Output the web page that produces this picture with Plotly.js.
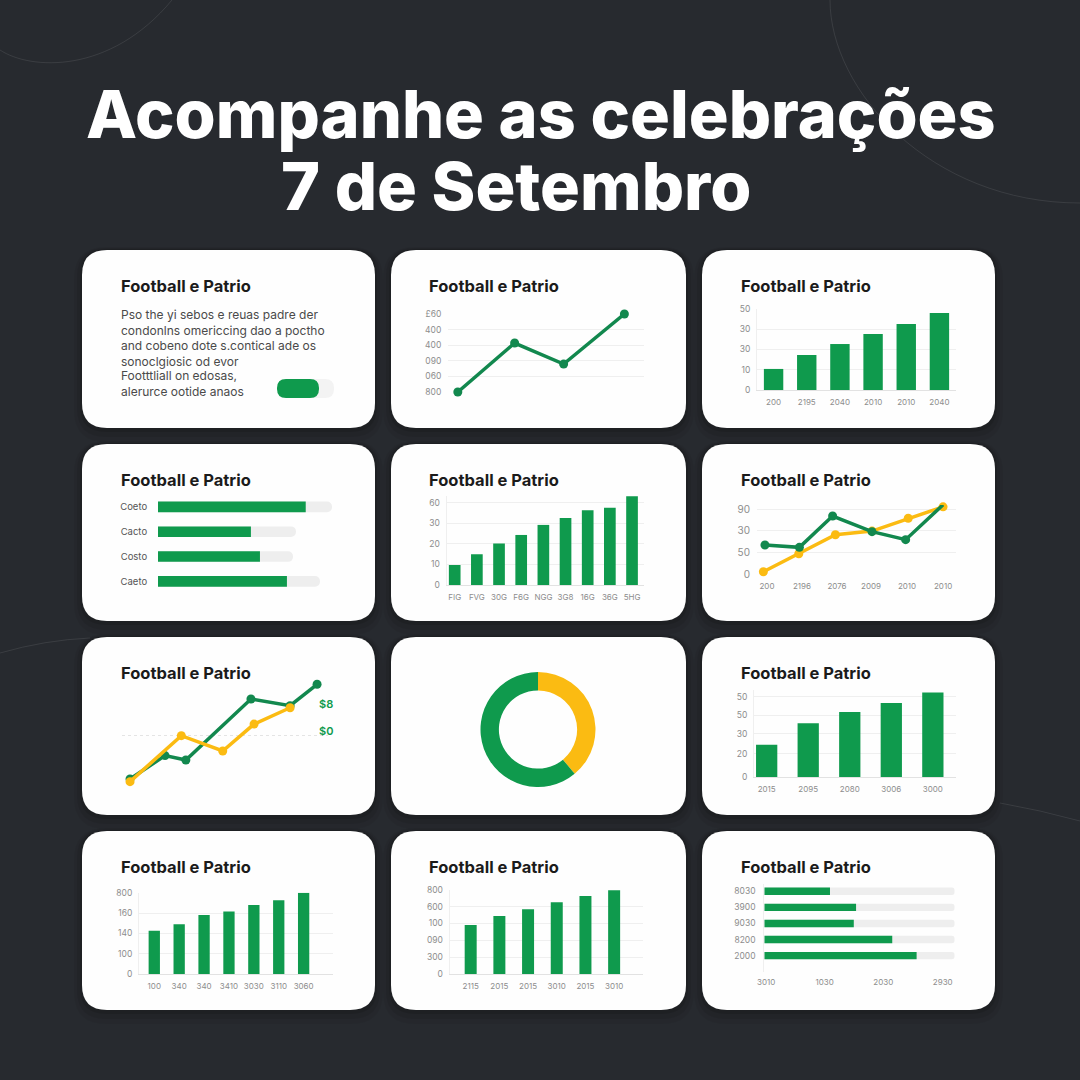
<!DOCTYPE html>
<html>
<head>
<meta charset="utf-8">
<script src="https://cdn.plot.ly/plotly-3.0.1.min.js"></script>
<style>
html, body { margin: 0; padding: 0; background: #272a2f; }
#chart { width: 1080px; height: 1080px; }
</style>
</head>
<body>
<div id="chart"></div>
<script>
// Data
var pageTitle1 = 'Acompanhe as celebrações';
var pageTitle2 = '7 de Setembro';
var cardTitle = 'Football e Patrio';
var bodyLines = ['Pso the yi sebos e reuas padre der', 'condonlns omericcing dao a poctho', 'and cobeno dote s.contical ade os',
  'sonoclgiosic od evor', 'Footttliall on edosas,', 'alerurce ootide anaos'];

var line1X = [5, 34, 59, 90];
var line1Y = [100, 414, 279, 600];
var line1Ticks = [100, 200, 300, 400, 500, 600];
var line1TickText = ['800', '060', '090', '400', '400', '£60'];

var bars1Labels = ['200', '2195', '2040', '2010', '2010', '2040'];
var bars1Values = [10.4, 17.3, 22.7, 27.7, 32.6, 38];
var bars1Ticks = [0, 10, 20, 30, 40];
var bars1TickText = ['0', '10', '30', '30', '50'];

var progress1Labels = ['Coeto', 'Cacto', 'Costo', 'Caeto'];
var progress1Values = [84.9, 53.4, 58.6, 74.1];
var progress1Tracks = [100, 79.3, 77.6, 93.1];

var bars2Labels = ['FIG', 'FVG', '30G', 'F6G', 'NGG', '3G8', '16G', '36G', '5HG'];
var bars2Values = [9.8, 15, 20.2, 24.4, 29.3, 32.7, 36.4, 37.7, 43.3];
var bars2Ticks = [0, 10, 20, 30, 40];
var bars2TickText = ['0', '10', '20', '30', '60'];

var trendLabels = ['200', '2196', '2076', '2009', '2010', '2010'];
var trendTicks = [5, 22.6, 40.2, 57.3, 75.4, 93.5];
var trendGreenX = [4, 21.3, 38, 57.8, 74.7, 93.5];
var trendGreenY = [40.7, 37.5, 80.4, 59, 48, 95.8];
var trendYellowX = [3.2, 21, 39.4, 57.8, 76, 93.5];
var trendYellowY = [4, 28.7, 54.7, 59.8, 77.3, 93];
var trendYTicks = [0, 30, 60, 90];
var trendYText = ['0', '50', '30', '90'];

var crossGreenX = [3.9, 20.9, 31, 62.6, 81.6, 94.7];
var crossGreenY = [5.7, 28, 23.8, 81.9, 75.5, 95.9];
var crossYellowX = [3.9, 28.8, 48.9, 64.1, 81.6];
var crossYellowY = [3.2, 47, 32.4, 58, 73.6];
var crossGuide = [46.7];
var crossNotes = ['$8', '$0'];
var crossNotesY = [77.4, 51.4];

var donutValues = [39, 61];

var bars3Labels = ['2015', '2095', '2080', '3006', '3000'];
var bars3Values = [20.2, 33.5, 40.4, 46, 52.6];
var bars3Ticks = [0, 14.6, 26.9, 38.4, 50];
var bars3TickText = ['0', '20', '30', '50', '50'];

var bars4Labels = ['100', '340', '340', '3410', '3030', '3110', '3060'];
var bars4Values = [213, 244.5, 290, 308, 339.5, 362.6, 400];
var bars4Ticks = [0, 100, 200, 300, 400];
var bars4TickText = ['0', '100', '140', '160', '800'];

var bars5Labels = ['2115', '2015', '2015', '3010', '2015', '3010'];
var bars5Values = [290.6, 344, 383.7, 425, 462.6, 496.4];
var bars5Ticks = [0, 100, 200, 300, 400, 500];
var bars5TickText = ['0', '300', '090', '100', '600', '800'];

var progress2Labels = ['2000', '8200', '9030', '3900', '8030'];
var progress2Values = [80, 67.2, 47, 48.2, 34.5];
var progress2Ticks = [1, 31.7, 62.5, 93.7];
var progress2TickText = ['3010', '1030', '2030', '2930'];
var progress2Track = [100, 100, 100, 100, 100];

var GREEN = '#0f9a4d';
var LINEGREEN = '#12884e';
var YELLOW = '#fbbb12';
var TICK = '#8d8d8d';
var GRID = '#efefef';
var FONT = 'Inter, "Liberation Sans", sans-serif';

var W = 1080;
function px(x) { return x / W; }
function py(y) { return 1 - y / W; }

var traces = [], shapes = [], annotations = [], layout = {};
var axisCount = 0;

// adds one x/y axis pair placed on a pixel box of the page
function addAxes(box, xopts, yopts) {
  axisCount++;
  var s = axisCount === 1 ? '' : String(axisCount);
  layout['xaxis' + s] = Object.assign({
    domain: [px(box[0]), px(box[2])], anchor: 'y' + s, showgrid: false, zeroline: false,
    showline: true, linecolor: '#e2e2e2', linewidth: 1, ticks: 'outside', ticklen: 4, tickcolor: 'rgba(0,0,0,0)',
    tickfont: { family: FONT, size: 8, color: TICK }, tickangle: 0, fixedrange: true
  }, xopts);
  layout['yaxis' + s] = Object.assign({
    domain: [py(box[3]), py(box[1])], anchor: 'x' + s, showgrid: true, gridcolor: GRID, gridwidth: 1, zeroline: false,
    showline: true, linecolor: GRID, linewidth: 1, ticks: 'outside', ticklen: 4, tickcolor: 'rgba(0,0,0,0)',
    tickfont: { family: FONT, size: 8.5, color: TICK }, fixedrange: true
  }, yopts);
  return { x: 'x' + s, y: 'y' + s };
}

function barPanel(box, labels, values, ticks, tickText, xRange, yRange, gap) {
  var ax = addAxes(box,
    { range: xRange, tickvals: labels.map(function(l, i) { return i; }), ticktext: labels },
    { range: yRange, tickvals: ticks, ticktext: tickText });
  traces.push({ type: 'bar', x: labels.map(function(l, i) { return i; }), y: values, xaxis: ax.x, yaxis: ax.y,
    width: gap, marker: { color: GREEN } });
}

function linePanel(ax, xs, ys, color, size) {
  traces.push({ type: 'scatter', mode: 'lines+markers', x: xs, y: ys, xaxis: ax.x, yaxis: ax.y,
    line: { color: color, width: 3.5 }, marker: { color: color, size: size }, cliponaxis: false });
}

function progressPanel(box, labels, values, tracks, xopts, yopts, barWidth, radius) {
  var idx = labels.map(function(l, i) { return i; });
  var ax = addAxes(box, xopts, Object.assign({ tickvals: idx, ticktext: labels, showgrid: false }, yopts));
  traces.push({ type: 'bar', orientation: 'h', y: idx, x: tracks, xaxis: ax.x, yaxis: ax.y, width: barWidth,
    marker: { color: '#eeeeee', cornerradius: radius } });
  traces.push({ type: 'bar', orientation: 'h', y: idx, x: values, xaxis: ax.x, yaxis: ax.y, width: barWidth,
    marker: { color: GREEN, cornerradius: radius } });
}

// rounded box as a paper path
function roundPath(x0, y0, x1, y1, r) {
  function p(x, y) { return px(x) + ' ' + py(y); }
  return 'M ' + p(x0 + r, y0) + ' L ' + p(x1 - r, y0) + ' Q ' + p(x1, y0) + ' ' + p(x1, y0 + r) +
    ' L ' + p(x1, y1 - r) + ' Q ' + p(x1, y1) + ' ' + p(x1 - r, y1) +
    ' L ' + p(x0 + r, y1) + ' Q ' + p(x0, y1) + ' ' + p(x0, y1 - r) +
    ' L ' + p(x0, y0 + r) + ' Q ' + p(x0, y0) + ' ' + p(x0 + r, y0) + ' Z';
}

function addRound(x0, y0, x1, y1, r, fill) {
  shapes.push({ type: 'path', xref: 'paper', yref: 'paper', layer: 'below', path: roundPath(x0, y0, x1, y1, r),
    fillcolor: fill, line: { width: 0 } });
}

function addArc(path) {
  shapes.push({ type: 'path', xref: 'paper', yref: 'paper', layer: 'below', path: path,
    fillcolor: 'rgba(0,0,0,0)', line: { color: 'rgba(255,255,255,0.09)', width: 1 } });
}

function addText(text, x, y, size, color, weight, anchor) {
  annotations.push({ text: text, xref: 'paper', yref: 'paper', x: px(x), y: py(y), xanchor: anchor || 'left', yanchor: 'middle',
    showarrow: false, align: 'left', font: { family: FONT, size: size, color: color, weight: weight || 400 } });
}

function p2(x, y) { return px(x) + ' ' + py(y); }
addArc('M ' + p2(0, 50) + ' C ' + p2(30, 70) + ' ' + p2(110, 75) + ' ' + p2(172, 0));
addArc('M ' + p2(830, 0) + ' C ' + p2(830, 90) + ' ' + p2(930, 203) + ' ' + p2(1080, 203));
addArc('M ' + p2(0, 653) + ' Q ' + p2(45, 640) + ' ' + p2(90, 638));
addArc('M ' + p2(1000, 803) + ' Q ' + p2(1040, 810) + ' ' + p2(1080, 821));

addText(pageTitle1, 541, 114, 66.5, '#ffffff', 800, 'center');
addText(pageTitle2, 516, 186, 66.5, '#ffffff', 800, 'center');

var cols = [[82, 375], [391, 686], [702, 995]];
var rows = [[250, 428], [444, 621], [637, 815], [831, 1010]];
var titleX = [119, 427, 739];

rows.forEach(function(r, ri) {
  cols.forEach(function(c, ci) {
    addRound(c[0] - 8, r[0] - 3, c[1] + 8, r[1] + 14, 32, 'rgba(0,0,0,0.05)');
    addRound(c[0] - 5, r[0] - 2, c[1] + 5, r[1] + 9, 29, 'rgba(0,0,0,0.07)');
    addRound(c[0] - 2, r[0] - 1, c[1] + 2, r[1] + 4, 26, 'rgba(0,0,0,0.10)');
    addRound(c[0], r[0], c[1], r[1], 25, '#fefefe');
    if (!(ri === 2 && ci === 1)) addText(cardTitle, titleX[ci], r[0] + 36, 16.5, '#1b1b1b', 700);
  });
});

// card 1: text and toggle
var bodyY = [314, 330, 345, 361, 376, 392];
bodyLines.forEach(function(t, i) { addText(t, 119, bodyY[i], 12, '#4a4a4a'); });
addRound(296, 379, 334, 398, 9, '#f3f3f3');
addRound(277, 379, 319, 398, 9, GREEN);

// card 2: single line
var ax2 = addAxes([448, 314, 644, 392],
  { range: [0, 100], showticklabels: false, showline: false, ticks: '' },
  { range: [100, 600], tickvals: line1Ticks, ticktext: line1TickText, showline: false });
linePanel(ax2, line1X, line1Y, LINEGREEN, 9);

// card 3
barPanel([757, 309, 956, 390], bars1Labels, bars1Values, bars1Ticks, bars1TickText, [-0.5, 5.5], [0, 40], 0.585);

// card 4: progress bars
progressPanel([158, 497, 332, 590], progress1Labels, progress1Values, progress1Tracks,
  { range: [0, 100], showticklabels: false, showline: false, ticks: '' },
  { range: [3.35, -0.4], showline: false, ticklen: 8, tickfont: { family: FONT, size: 9.5, color: '#555555' } },
  0.43, 5);

// card 5
barPanel([446.5, 496, 644, 585], bars2Labels, bars2Values, bars2Ticks, bars2TickText, [-0.37, 8.54], [0, 43.4], 0.527);

// card 6: two lines
var ax6 = addAxes([757, 505, 956, 574.7],
  { range: [0, 100], tickvals: trendTicks, ticktext: trendLabels, showline: false },
  { range: [0, 95.5], tickvals: trendYTicks, ticktext: trendYText, showline: false, tickfont: { family: FONT, size: 10, color: TICK } });
linePanel(ax6, trendYellowX, trendYellowY, YELLOW, 9);
linePanel(ax6, trendGreenX, trendGreenY, LINEGREEN, 9);

// card 7: crossing lines without labels
var ax7 = addAxes([122, 680, 328, 785],
  { range: [0, 100], showticklabels: false, showline: false, ticks: '' },
  { range: [0, 100], tickvals: crossGuide, showticklabels: false, showline: false, ticks: '', griddash: 'dot', gridcolor: '#e4e4e4' });
linePanel(ax7, crossGreenX, crossGreenY, LINEGREEN, 9);
linePanel(ax7, crossYellowX, crossYellowY, YELLOW, 9);
crossNotes.forEach(function(t, i) {
  annotations.push({ text: t, xref: ax7.x, yref: ax7.y, x: 99, y: crossNotesY[i], showarrow: false,
    font: { family: FONT, size: 11, color: GREEN, weight: 600 } });
});

// card 8: donut
traces.push({ type: 'pie', values: donutValues, hole: 0.68, sort: false, direction: 'clockwise', rotation: 0,
  textinfo: 'none', showlegend: false, marker: { colors: [YELLOW, GREEN], line: { width: 0 } },
  domain: { x: [px(480.5), px(595.5)], y: [py(787), py(672)] } });

// card 9
barPanel([754, 690, 955.7, 777.3], bars3Labels, bars3Values, bars3Ticks, bars3TickText, [-0.305, 4.55], [0, 54.1], 0.512);

// card 10
barPanel([139, 892.7, 333, 974], bars4Labels, bars4Values, bars4Ticks, bars4TickText, [-0.614, 7.18], [0, 400], 0.454);

// card 11
barPanel([449.6, 889.7, 643.4, 974], bars5Labels, bars5Values, bars5Ticks, bars5TickText, [-0.735, 6.02], [0, 500], 0.418);

// card 12: progress bars with axis
progressPanel([764.3, 884, 954.7, 971.7], progress2Labels, progress2Values, progress2Track,
  { range: [0, 100], tickvals: progress2Ticks, ticktext: progress2TickText, showline: false, ticklen: 3 },
  { range: [-1, 4.45], ticklen: 6 },
  0.46, 4);

Object.assign(layout, {
  width: W, height: W,
  margin: { l: 0, r: 0, t: 0, b: 0 },
  paper_bgcolor: '#272a2f',
  plot_bgcolor: 'rgba(0,0,0,0)',
  barmode: 'overlay',
  showlegend: false,
  hovermode: false,
  shapes: shapes,
  annotations: annotations
});

Plotly.newPlot('chart', traces, layout, { displayModeBar: false, staticPlot: true });
</script>
</body>
</html>
